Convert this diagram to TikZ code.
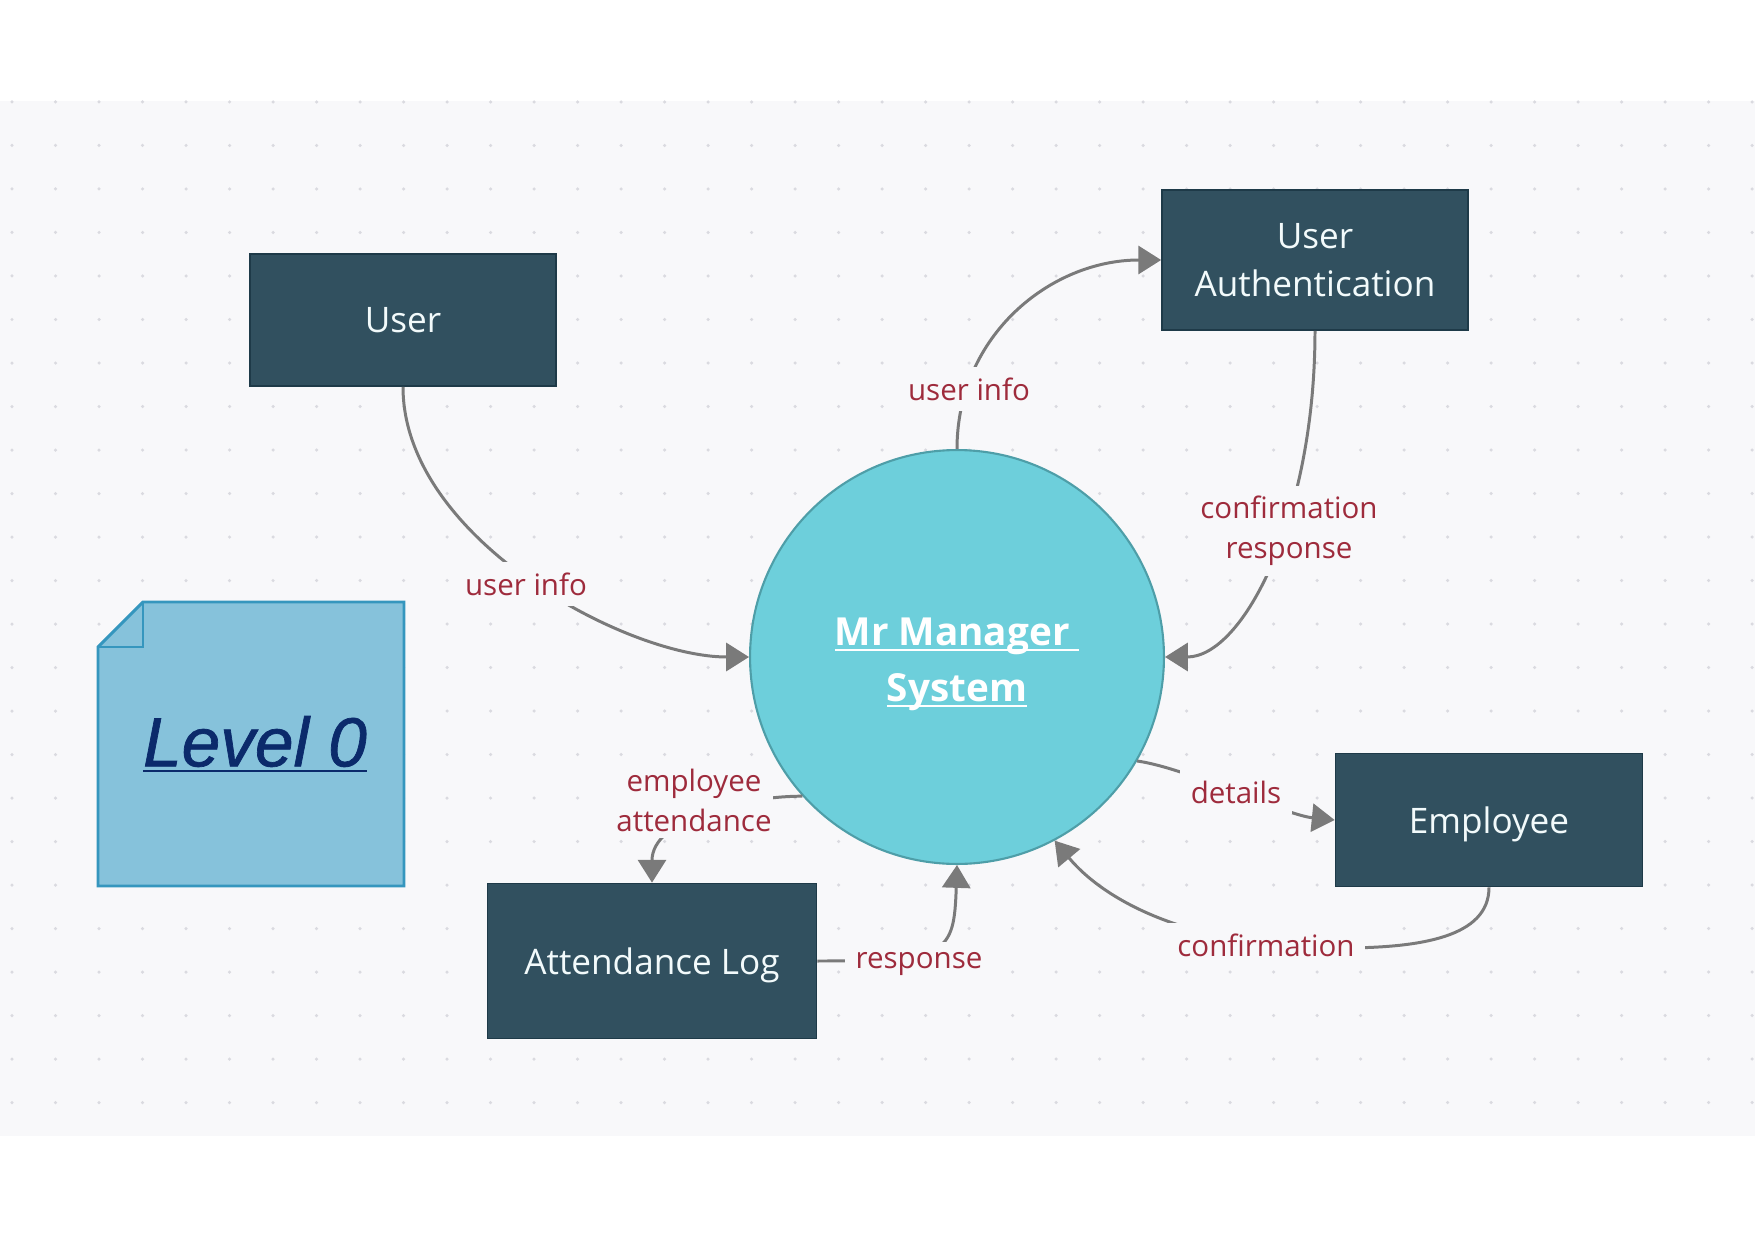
\documentclass[tikz,border=0pt]{standalone}
\usepackage{fontspec}
\setmainfont{Open Sans}
\newfontfamily\levelfont[FakeBold=1]{Liberation Sans}
\newcommand{\myuline}[1]{\leavevmode\setbox0=\hbox{#1}\rlap{\rule[-3.2pt]{\wd0}{1.2pt}}\box0}
\newcommand{\nodepth}[1]{\raisebox{0pt}[\height][0pt]{#1}}
\usetikzlibrary{arrows.meta}
\definecolor{bg}{HTML}{F8F8FA}
\definecolor{dotc}{HTML}{DADAE0}
\definecolor{boxfill}{HTML}{31505F}
\definecolor{boxborder}{HTML}{1E3A48}
\definecolor{boxtext}{HTML}{F2FAFB}
\definecolor{circfill}{HTML}{6DCFDB}
\definecolor{circborder}{HTML}{4E9EA8}
\definecolor{lblred}{HTML}{9E2B3C}
\definecolor{linegray}{HTML}{7A7A7A}
\definecolor{notefill}{HTML}{86C2DB}
\definecolor{noteborder}{HTML}{3596BE}
\definecolor{levelblue}{HTML}{0B2A6B}
\tikzset{
  box/.style={draw=boxborder, line width=1pt, fill=boxfill, text=boxtext,
    font=\fontsize{20}{26}\selectfont, align=center, inner sep=0pt},
  flow/.style={draw=linegray, line width=1.7pt, -{Triangle[length=13pt,width=16pt]}},
  lbl/.style={fill=bg, text=lblred, font=\fontsize{16.8}{22.7}\selectfont,
    align=center, inner sep=6pt},
}
\begin{document}
\begin{tikzpicture}[x=0.02cm,y=-0.02cm]
\useasboundingbox (0,0) rectangle (1755,1240);
\fill[white] (0,0) rectangle (1755,1240);
\fill[bg] (0,101) rectangle (1755,1136);
\foreach \i in {0,...,40}{
  \foreach \j in {0,...,23}{
    \fill[dotc] (12+43.5*\i,102+43.5*\j) circle (0.035cm);
  }
}
% note
\filldraw[fill=notefill, draw=noteborder, line width=1.7pt, line join=miter]
  (143,602) -- (404,602) -- (404,886) -- (98,886) -- (98,647) -- cycle;
\draw[noteborder, line width=1.7pt] (143,602) -- (143,647) -- (98,647);
\node[text=levelblue, font=\levelfont\itshape\fontsize{39.5}{44}\selectfont, inner sep=0pt]
  (level) at (255,744) {\myuline{Level 0}};
% entities
\node[box, minimum width=6.12cm, minimum height=2.64cm] (user) at (403,320) {User};
\node[box, minimum width=6.12cm, minimum height=2.8cm] (ua) at (1315,260) {User\\[1pt]Authentication};
\node[box, minimum width=6.14cm, minimum height=2.66cm] (emp) at (1489,820) {\nodepth{Employee}};
\node[box, minimum width=6.58cm, minimum height=3.1cm] (att) at (652,961) {\nodepth{Attendance Log}};
\node[circle, draw=circborder, line width=1.2pt, fill=circfill, minimum size=8.28cm,
  text=white, align=center, inner sep=0pt,
  font=\bfseries\fontsize{22}{31.7}\selectfont] (sys) at (957,657)
  {\rule{0pt}{23.7pt}\myuline{Mr Manager\hspace{0.25em}}\\\myuline{System}};
% connectors
\coordinate (c5) at (1340,948);
\draw[flow] (user.south) .. controls +(0,151) and +(-123,0) .. (sys.west);
\draw[flow] (sys.north) .. controls +(0,-114) and +(-110,0) .. (ua.west);
\draw[flow] (ua.south) .. controls +(0,187) and +(78,0) .. (sys.east);
\draw[flow] (sys.-30) .. controls +(50,7) and +(-50,-5) .. (emp.west);
\draw[flow] (emp.south) .. controls +(0,50) and +(80,0) .. (c5)
  .. controls +(-150,0) and +(50,60) .. (sys.-62);
\draw[flow] (sys.222) .. controls +(-60,0) and +(0,-64) .. (att.north);
\draw[flow] (att.east) .. controls +(130,0) and +(-3,90) .. (sys.south);
% labels
\node[lbl] (l1) at (526,584) {user info};
\node[lbl] (l2) at (969,389) {user info};
\node[lbl] (l3) at (1289,531) {confirmation\\response};
\node[lbl] (l4) at (1236,792) {details};
\node[lbl] (l5) at (1266,945) {confirmation};
\node[lbl, inner xsep=1pt, inner ysep=4pt] (l6) at (694,800) {employee\\attendance};
\node[lbl] (l7) at (919,964) {response};
\end{tikzpicture}
\end{document}
